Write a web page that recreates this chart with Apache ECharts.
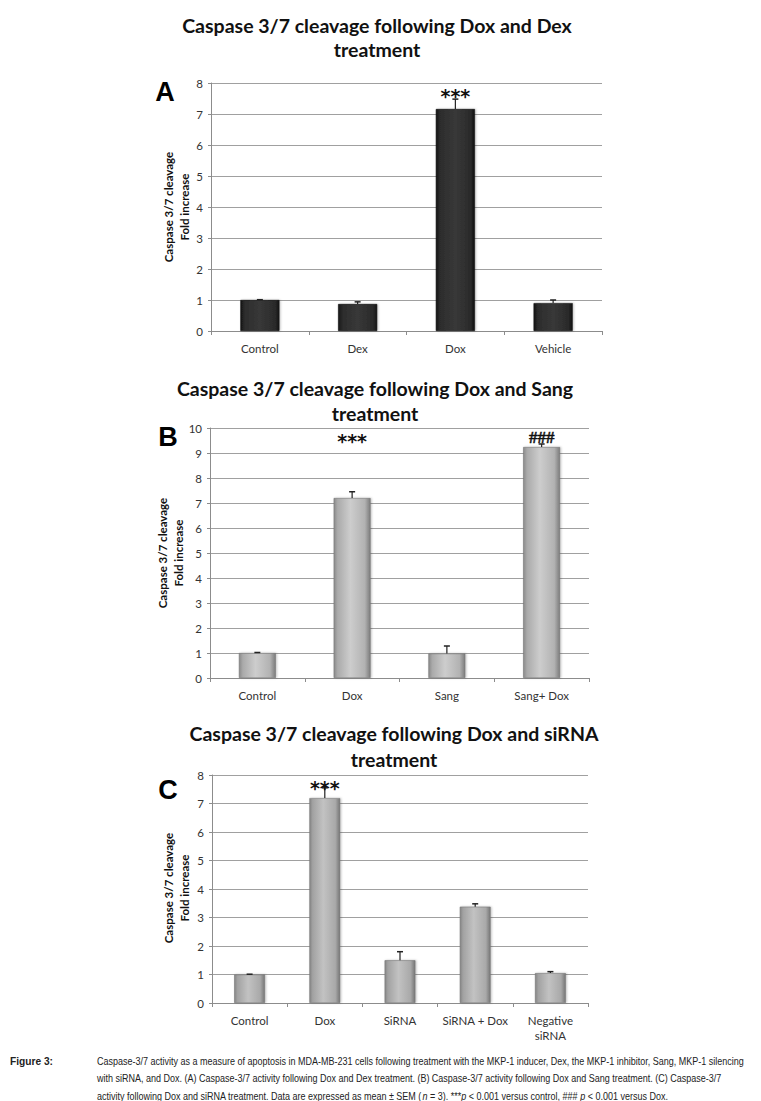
<!DOCTYPE html>
<html>
<head>
<meta charset="utf-8">
<script src="https://cdn.jsdelivr.net/npm/echarts@6/dist/echarts.min.js"></script>
<style>
html,body{margin:0;padding:0;background:#fff;}
#chart{width:761px;height:1101px;}
</style>
</head>
<body>
<div id="chart"></div>
<script>
// ---------- DATA ----------
const catsA = ['Control', 'Dex', 'Dox', 'Vehicle'];
const meanA = [1.0, 0.87, 7.16, 0.9];
const errTopA = [1.01, 0.94, 7.48, 1.0];
const annotA = ['', '', '***', ''];
const annotYA = [null, null, 7.7, null];

const catsB = ['Control', 'Dox', 'Sang', 'Sang+ Dox'];
const meanB = [1.0, 7.2, 0.98, 9.24];
const errTopB = [1.02, 7.45, 1.28, 9.36];
const annotB = ['', '***', '', '###'];
const annotYB = [null, 9.64, null, 9.64];

const catsC = ['Control', 'Dox', 'SiRNA', 'SiRNA + Dox', 'Negative\nsiRNA'];
const meanC = [1.0, 7.19, 1.5, 3.38, 1.05];
const errTopC = [1.01, 7.55, 1.8, 3.48, 1.1];
const annotC = ['', '***', '', '', ''];
const annotYC = [null, 7.68, null, null, null];

const ticksA = {min: 0, max: 8, interval: 1};
const ticksB = {min: 0, max: 10, interval: 1};
const ticksC = {min: 0, max: 8, interval: 1};

const titleA = ['Caspase 3/7 cleavage following Dox and Dex', 'treatment'];
const titleB = ['Caspase 3/7 cleavage following Dox and Sang', 'treatment'];
const titleC = ['Caspase 3/7 cleavage following Dox and siRNA', 'treatment'];
const yName = 'Caspase 3/7 cleavage\nFold increase';
const captionLabel = 'Figure 3:';
const captionLines = [
  'Caspase-3/7 activity as a measure of apoptosis in MDA-MB-231 cells following treatment with the MKP-1 inducer, Dex, the MKP-1 inhibitor, Sang, MKP-1 silencing',
  'with siRNA, and Dox. (A) Caspase-3/7 activity following Dox and Dex treatment. (B) Caspase-3/7 activity following Dox and Sang treatment. (C) Caspase-3/7',
  'activity following Dox and siRNA treatment. Data are expressed as mean \u00b1 SEM ({i|n} = 3). ***{i|p} < 0.001 versus control, ### {i|p} < 0.001 versus Dox.'
];

// ---------- LAYOUT / STYLE ----------
const FONT = 'Lato, "Open Sans", sans-serif';
const CAPFONT = '"Liberation Sans", Arial, sans-serif';
const grids = [
  {left: 211, top: 83, width: 391, height: 248},
  {left: 210, top: 428, width: 379, height: 250},
  {left: 212, top: 775, width: 376, height: 228}
];
const barWidths = ['40%', '39%', '41%'];
const gradA = {type: 'linear', x: 0, y: 0, x2: 1, y2: 0, colorStops: [
  {offset: 0, color: '#141414'}, {offset: 0.1, color: '#2c2c2c'}, {offset: 0.5, color: '#383838'},
  {offset: 0.9, color: '#2a2a2a'}, {offset: 1, color: '#111111'}]};
const gradB = {type: 'linear', x: 0, y: 0, x2: 1, y2: 0, colorStops: [
  {offset: 0, color: '#8a8a8a'}, {offset: 0.1, color: '#aaaaaa'}, {offset: 0.45, color: '#cdcdcd'},
  {offset: 0.85, color: '#b2b2b2'}, {offset: 1, color: '#7c7c7c'}]};
const gradC = {type: 'linear', x: 0, y: 0, x2: 1, y2: 0, colorStops: [
  {offset: 0, color: '#858585'}, {offset: 0.1, color: '#a2a2a2'}, {offset: 0.45, color: '#c2c2c2'},
  {offset: 0.85, color: '#a9a9a9'}, {offset: 1, color: '#767676'}]};
const grads = [gradA, gradB, gradC];

const panels = [
  {cats: catsA, mean: meanA, err: errTopA, ann: annotA, annY: annotYA, ticks: ticksA},
  {cats: catsB, mean: meanB, err: errTopB, ann: annotB, annY: annotYB, ticks: ticksB},
  {cats: catsC, mean: meanC, err: errTopC, ann: annotC, annY: annotYC, ticks: ticksC}
];

const xAxes = [], yAxes = [], series = [];
panels.forEach((p, k) => {
  xAxes.push({
    type: 'category', gridIndex: k, data: p.cats,
    axisLine: {lineStyle: {color: '#8c8c8c', width: 1}},
    axisTick: {show: true, length: 4, lineStyle: {color: '#8c8c8c'}},
    axisLabel: {color: '#333', fontFamily: FONT, fontSize: 11.5, margin: 10, lineHeight: 15, interval: 0}
  });
  yAxes.push({
    type: 'value', gridIndex: k, min: p.ticks.min, max: p.ticks.max, interval: p.ticks.interval,
    axisLine: {show: true, lineStyle: {color: '#8c8c8c', width: 1}},
    axisTick: {show: true, length: 3, lineStyle: {color: '#8c8c8c'}},
    splitLine: {lineStyle: {color: '#a0a0a0', width: 1}},
    axisLabel: {color: '#333', fontFamily: FONT, fontSize: 11.5, margin: 8}
  });
  series.push({
    type: 'bar', xAxisIndex: k, yAxisIndex: k, data: p.mean, barWidth: barWidths[k],
    itemStyle: {color: grads[k], borderColor: k === 0 ? '#0c0c0c' : '#777', borderWidth: 0.6,
      shadowColor: 'rgba(0,0,0,0.25)', shadowBlur: 2, shadowOffsetX: 1, shadowOffsetY: 0},
    z: 2
  });
  series.push({
    type: 'custom', xAxisIndex: k, yAxisIndex: k, z: 3,
    data: p.mean.map((m, i) => [i, m, p.err[i]]),
    renderItem: function (params, api) {
      const base = api.coord([api.value(0), api.value(1)]);
      const top = api.coord([api.value(0), api.value(2)]);
      const hw = 3;
      return {type: 'group', children: [
        {type: 'line', shape: {x1: base[0], y1: base[1], x2: top[0], y2: top[1]}, style: {stroke: '#222', lineWidth: 1.2}},
        {type: 'line', shape: {x1: top[0] - hw, y1: top[1], x2: top[0] + hw, y2: top[1]}, style: {stroke: '#222', lineWidth: 1.5}}
      ]};
    }
  });
  series.push({
    type: 'custom', xAxisIndex: k, yAxisIndex: k, z: 4,
    data: p.ann.map((t, i) => [i, p.annY[i] == null ? 0 : p.annY[i], t]).filter(d => d[2]),
    dimensions: ['x', 'y', {name: 't', type: 'ordinal'}],
    encode: {x: 0, y: 1},
    renderItem: function (params, api) {
      const pt = api.coord([api.value(0), api.value(1)]);
      const t = api.value(2);
      const isStar = t.indexOf('*') >= 0;
      return {type: 'text', x: pt[0], y: pt[1] + (isStar ? 4 : 0), style: {
        text: t, align: 'center', verticalAlign: 'middle', fill: '#111',
        stroke: isStar ? null : '#111', lineWidth: isStar ? 0 : 0.4,
        font: isStar ? 'bold 19px "DejaVu Sans", sans-serif' : 'bold 17px "Liberation Serif", serif'}};
    }
  });
});

function titleText(lines, cx, y1, y2) {
  return [
    {type: 'text', x: cx, y: y1, style: {text: lines[0], align: 'center', verticalAlign: 'middle', fill: '#111', font: 'bold 19.5px ' + FONT}},
    {type: 'text', x: cx, y: y2, style: {text: lines[1], align: 'center', verticalAlign: 'middle', fill: '#111', font: 'bold 19.5px ' + FONT}}
  ];
}
function letter(t, x, y) {
  return {type: 'text', x: x, y: y, style: {text: t, align: 'center', verticalAlign: 'middle', fill: '#000', font: 'bold 27px "Liberation Sans", Arial, sans-serif'}};
}
function yLabel(x, y) {
  return {type: 'text', x: x, y: y, rotation: Math.PI / 2, style: {text: yName, align: 'center', verticalAlign: 'middle', fill: '#111', font: 'bold 11.5px ' + FONT, lineHeight: 16}};
}

// measure caption to compress horizontally (condensed look)
const mctx = document.createElement('canvas').getContext('2d');
mctx.font = '10.5px ' + CAPFONT;
const capScale = 648 / mctx.measureText(captionLines[0]).width;
mctx.font = 'bold 10.5px ' + CAPFONT;
const labScale = 43 / mctx.measureText(captionLabel).width;

const graphics = [].concat(
  titleText(titleA, 377, 25, 49),
  titleText(titleB, 375, 388, 413),
  titleText(titleC, 394, 733, 759),
  [letter('A', 165, 92), letter('B', 168, 437), letter('C', 168, 790),
   yLabel(176, 207), yLabel(170, 553), yLabel(176, 888),
   {type: 'text', x: 10, y: 1061, scaleX: labScale, style: {text: captionLabel, verticalAlign: 'middle', fill: '#222', font: 'bold 10.5px ' + CAPFONT}}],
  captionLines.map((l, i) => ({type: 'text', x: 97, y: 1061 + i * 17.5, scaleX: capScale, style: {
    text: l, verticalAlign: 'middle', fill: '#222', font: '10.5px ' + CAPFONT,
    rich: {i: {fontStyle: 'italic', fontSize: 10.5, fontFamily: CAPFONT, fill: '#222'}}}}))
);

const chart = echarts.init(document.getElementById('chart'), null, {renderer: 'svg'});
chart.setOption({
  backgroundColor: '#fff',
  animation: false,
  grid: grids.map(g => Object.assign({containLabel: false, outerBoundsMode: 'none'}, g)),
  xAxis: xAxes,
  yAxis: yAxes,
  series: series,
  graphic: graphics
});
</script>
</body>
</html>
